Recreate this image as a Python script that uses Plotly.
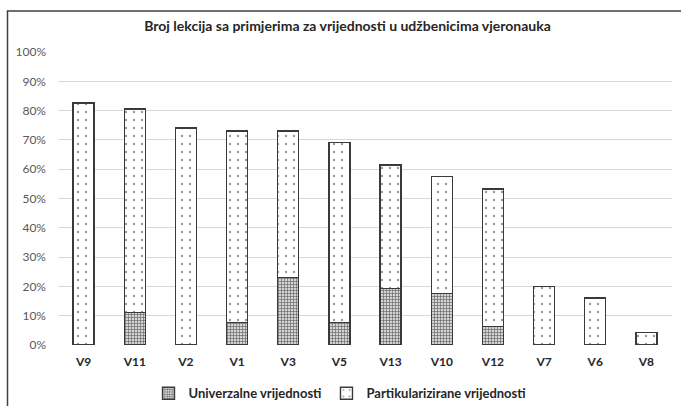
import plotly.graph_objects as go

categories = ["V9", "V11", "V2", "V1", "V3", "V5", "V13", "V10", "V12", "V7", "V6", "V8"]
univerzalne = [0, 11.0, 0, 7.7, 23.1, 7.7, 19.2, 17.5, 6.4, 0, 0, 0]
partikularizirane = [82.6, 69.5, 74.1, 65.3, 49.9, 61.4, 42.3, 40.0, 46.8, 19.9, 16.0, 4.2]
y_ticks = [0, 10, 20, 30, 40, 50, 60, 70, 80, 90, 100]

W, H = 681, 406
L, R, T, B = 58, 9, 52, 61.2
pw = W - L - R
ph = H - T - B

def px_x(px):
    return (px - L) / pw

def px_y(py):
    return (H - B - py) / ph

FONT = "Lato"
outline = dict(color="#3a3a3a", width=1.4)

fig = go.Figure()
fig.add_trace(go.Bar(
    x=categories, y=univerzalne, name="Univerzalne vrijednosti",
    marker=dict(color="#b0b0b0", line=outline,
                pattern=dict(shape="+", size=3, solidity=0.35,
                             fgcolor="#5a5a5a", bgcolor="#d4d4d4", fillmode="replace")),
))
fig.add_trace(go.Bar(
    x=categories, y=partikularizirane, name="Partikularizirane vrijednosti",
    marker=dict(color="white", line=outline,
                pattern=dict(shape=".", size=8, solidity=0.07,
                             fgcolor="#9a9a9a", bgcolor="white", fillmode="replace")),
))

fig.update_layout(
    barmode="stack",
    bargap=0.59,
    width=W, height=H,
    margin=dict(l=L, r=R, t=T, b=B, autoexpand=False),
    paper_bgcolor="white", plot_bgcolor="white",
    font=dict(family=FONT, color="#595959", size=12),
    title=dict(text="<b>Broj lekcija sa primjerima za vrijednosti u udžbenicima vjeronauka</b>",
               x=347.5 / W, xanchor="center", y=1 - 26 / H, yanchor="middle",
               font=dict(family=FONT, size=14, color="#262626")),
    legend=dict(orientation="h", x=px_x(340), xanchor="center", y=px_y(393), yanchor="middle",
                font=dict(family=FONT, size=13, color="#262626", weight="bold"),
                itemwidth=30, tracegroupgap=0, traceorder="normal"),
    showlegend=True,
    shapes=[dict(type="rect", xref="paper", yref="paper",
                 x0=px_x(7.5), x1=px_x(W + 20), y0=px_y(H + 20), y1=px_y(11),
                 line=dict(color="#404040", width=1.5), fillcolor="rgba(0,0,0,0)", layer="below")],
)
fig.update_xaxes(
    showgrid=False, showline=False, zeroline=False, ticks="",
    tickfont=dict(family=FONT, size=12, color="#262626", weight="bold"),
    ticklabelstandoff=8,
)
fig.update_yaxes(
    range=[0, 100], tickvals=y_ticks, ticktext=[f"{v}%" for v in y_ticks],
    showgrid=True, gridcolor="#d9d9d9", gridwidth=1, zeroline=False, showline=False,
    tickfont=dict(family=FONT, size=12, color="#595959"),
    ticklabelstandoff=11,
)

fig.write_html(
    "out.html",
    config={"displayModeBar": False},
    post_script="document.body.style.margin='0';document.body.style.overflow='hidden';",
)
